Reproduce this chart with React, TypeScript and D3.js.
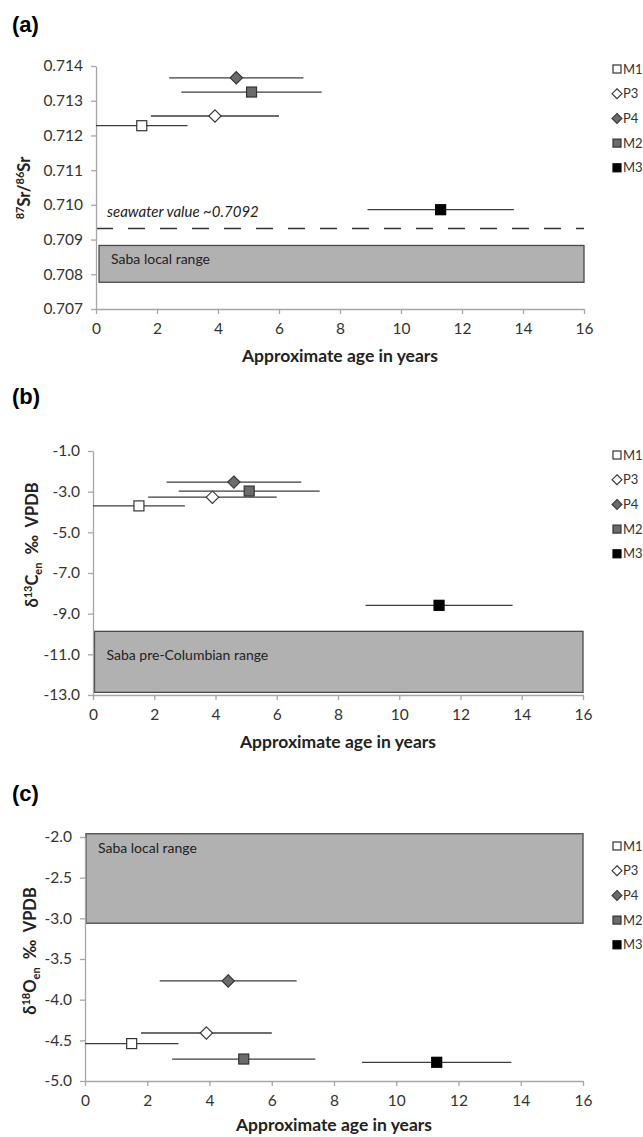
import React, { useEffect, useRef } from 'react';
import * as d3 from 'd3';

// teeth sampled, approximate age of formation (midpoint, half-range)
const teeth = ['M1', 'P3', 'P4', 'M2', 'M3'];
const ageMid = [1.5, 3.9, 4.6, 5.1, 11.3];
const ageErr = [1.5, 2.1, 2.2, 2.3, 2.4];

const srValues = [0.71228, 0.71256, 0.71366, 0.71325, 0.70986];
const carbonValues = [-3.7, -3.27, -2.53, -2.97, -8.59];
const oxygenValues = [-4.54, -4.41, -3.77, -4.73, -4.77];

const xTicks = [0, 2, 4, 6, 8, 10, 12, 14, 16];
const srTicks = [0.707, 0.708, 0.709, 0.71, 0.711, 0.712, 0.713, 0.714];
const carbonTicks = [-13, -11, -9, -7, -5, -3, -1];
const oxygenTicks = [-5, -4.5, -4, -3.5, -3, -2.5, -2];

const seawaterSr = 0.70932;
const srRange = [0.70777, 0.70883];
const carbonRange = [-12.87, -9.87];
const oxygenRange = [-3.06, -1.96];

const markerFill = ['#ffffff', '#ffffff', '#6b6b6b', '#6b6b6b', '#000000'];
const markerShape = ['square', 'diamond', 'diamond', 'square', 'square'];

const FONT = 'Lato, "Open Sans", sans-serif';

function App() {
	const svgRef = useRef<SVGSVGElement>(null);

	useEffect(() => {
		const svg = d3.select(svgRef.current);
		svg.selectAll('*').remove();

		const panels = [
			{
				tag: '(a)', tagY: 32, x0: 96, x1: 584, yTop: 66, yBot: 309,
				domain: [0.707, 0.714], ticks: srTicks, fmt: (d) => d.toFixed(3),
				values: srValues, range: srRange, rangeStart: 0.1, rangeLabel: 'Saba local range',
				labelDy: 19, legendY: 69, xLabelY: 362, ylab: 'sr', ylabX: 30, ylabY: 188,
			},
			{
				tag: '(b)', tagY: 404, x0: 93, x1: 583, yTop: 451, yBot: 695,
				domain: [-13, -1], ticks: carbonTicks, fmt: (d) => d.toFixed(1),
				values: carbonValues, range: carbonRange, rangeStart: 0.05, rangeLabel: 'Saba pre-Columbian range',
				labelDy: 29, legendY: 455, xLabelY: 748, ylab: 'c', ylabX: 38, ylabY: 545,
			},
			{
				tag: '(c)', tagY: 801, x0: 85, x1: 583, yTop: 837, yBot: 1081,
				domain: [-5, -2], ticks: oxygenTicks, fmt: (d) => d.toFixed(1),
				values: oxygenValues, range: oxygenRange, rangeStart: 0.03, rangeLabel: 'Saba local range',
				labelDy: 19, legendY: 846, xLabelY: 1131, ylab: 'o', ylabX: 36, ylabY: 951,
			},
		];

		panels.forEach((p) => {
			const x = d3.scaleLinear().domain([0, 16]).range([p.x0, p.x1]);
			const y = d3.scaleLinear().domain(p.domain).range([p.yBot, p.yTop]);
			const g = svg.append('g');

			g.append('text')
				.attr('x', 12).attr('y', p.tagY)
				.attr('font-family', 'Arial, "Liberation Sans", sans-serif')
				.attr('font-weight', 'bold').attr('font-size', 22)
				.text(p.tag);

			// range box
			g.append('rect')
				.attr('x', x(p.rangeStart))
				.attr('y', y(p.range[1]))
				.attr('width', x(16) - x(p.rangeStart))
				.attr('height', y(p.range[0]) - y(p.range[1]))
				.attr('fill', '#b1b1b1')
				.attr('stroke', '#4a4a4a')
				.attr('stroke-width', 1.3);
			g.append('text')
				.attr('x', x(p.rangeStart) + 12)
				.attr('y', y(p.range[1]) + p.labelDy)
				.attr('font-family', FONT).attr('font-size', 14).attr('fill', '#222')
				.text(p.rangeLabel);

			if (p.tag === '(a)') {
				g.append('line')
					.attr('x1', x(0)).attr('x2', x(16))
					.attr('y1', y(seawaterSr)).attr('y2', y(seawaterSr))
					.attr('stroke', '#333').attr('stroke-width', 1.5)
					.attr('stroke-dasharray', '17,15');
				g.append('text')
					.attr('x', x(0) + 11).attr('y', y(seawaterSr) - 11)
					.attr('font-family', FONT).attr('font-style', 'italic')
					.attr('font-size', 15).attr('fill', '#222')
					.text('seawater value ~0.7092');
			}

			// axes
			const xAxis = g.append('g')
				.attr('transform', `translate(0,${p.yBot})`)
				.call(d3.axisBottom(x).tickValues(xTicks).tickSize(5).tickSizeOuter(0).tickPadding(9));
			const yAxis = g.append('g')
				.attr('transform', `translate(${p.x0},0)`)
				.call(d3.axisLeft(y).tickValues(p.ticks).tickFormat(p.fmt).tickSize(5).tickSizeOuter(0).tickPadding(8));
			[xAxis, yAxis].forEach((a) => {
				a.select('.domain').attr('stroke', '#a6a6a6').attr('stroke-width', 1.3);
				a.selectAll('.tick line').attr('stroke', '#a6a6a6').attr('stroke-width', 1.3);
				a.selectAll('.tick text')
					.attr('font-family', FONT).attr('font-size', 15.5).attr('fill', '#333');
			});

			g.append('text')
				.attr('x', (p.x0 + p.x1) / 2 + 0).attr('y', p.xLabelY)
				.attr('text-anchor', 'middle')
				.attr('font-family', FONT).attr('font-weight', 'bold').attr('font-size', 17.5)
				.attr('fill', '#222')
				.text('Approximate age in years');

			// y label
			const yl = g.append('text')
				.attr('transform', `translate(${p.ylabX},${p.ylabY}) rotate(-90)`)
				.attr('text-anchor', 'middle')
				.attr('font-family', FONT).attr('font-weight', 'bold').attr('font-size', 16.5)
				.attr('fill', '#222');
			if (p.ylab === 'sr') {
				yl.append('tspan').attr('font-size', 11).attr('dy', -6).text('87');
				yl.append('tspan').attr('dy', 6).text('Sr/');
				yl.append('tspan').attr('font-size', 11).attr('dy', -6).text('86');
				yl.append('tspan').attr('dy', 6).text('Sr');
			} else {
				yl.append('tspan').text('δ');
				yl.append('tspan').attr('font-size', 11).attr('dy', -6).text(p.ylab === 'c' ? '13' : '18');
				yl.append('tspan').attr('dy', 6).text(p.ylab === 'c' ? 'C' : 'O');
				yl.append('tspan').attr('font-size', 11).attr('dy', 4).text('en');
				yl.append('tspan').attr('dy', -4).text('\u00a0 ‰\u00a0 VPDB');
			}

			// error bars + markers
			const pts = teeth.map((t, i) => ({ t, i, age: ageMid[i], err: ageErr[i], v: p.values[i] }));
			g.selectAll('line.err').data(pts).enter().append('line')
				.attr('class', 'err')
				.attr('x1', (d) => x(Math.max(0, d.age - d.err)))
				.attr('x2', (d) => x(d.age + d.err))
				.attr('y1', (d) => y(d.v)).attr('y2', (d) => y(d.v))
				.attr('stroke', '#3c3c3c').attr('stroke-width', 1.3);

			const drawMarker = (sel, i, cx, cy, s) => {
				if (markerShape[i] === 'square') {
					sel.append('rect')
						.attr('x', cx - s / 2).attr('y', cy - s / 2)
						.attr('width', s).attr('height', s)
						.attr('fill', markerFill[i])
						.attr('stroke', i === 4 ? '#000' : '#333').attr('stroke-width', 1.2);
				} else {
					const h = s * 0.62;
					sel.append('path')
						.attr('d', `M${cx},${cy - h}L${cx + h},${cy}L${cx},${cy + h}L${cx - h},${cy}Z`)
						.attr('fill', markerFill[i])
						.attr('stroke', '#333').attr('stroke-width', 1.1);
				}
			};
			pts.forEach((d) => drawMarker(g, d.i, x(d.age), y(d.v), 10));

			// legend
			teeth.forEach((t, i) => {
				const ly = p.legendY + i * 24.7;
				drawMarker(g, i, 617, ly, 8);
				g.append('text')
					.attr('x', 623).attr('y', ly + 4.5)
					.attr('font-family', FONT).attr('font-size', 13).attr('fill', '#333')
					.text(t);
			});
		});
	}, []);

	return (
		<svg
			ref={svgRef}
			width={643}
			height={1137}
			style={{ position: 'absolute', left: 0, top: 0, background: '#fff' }}
		></svg>
	);
}

export default App;
